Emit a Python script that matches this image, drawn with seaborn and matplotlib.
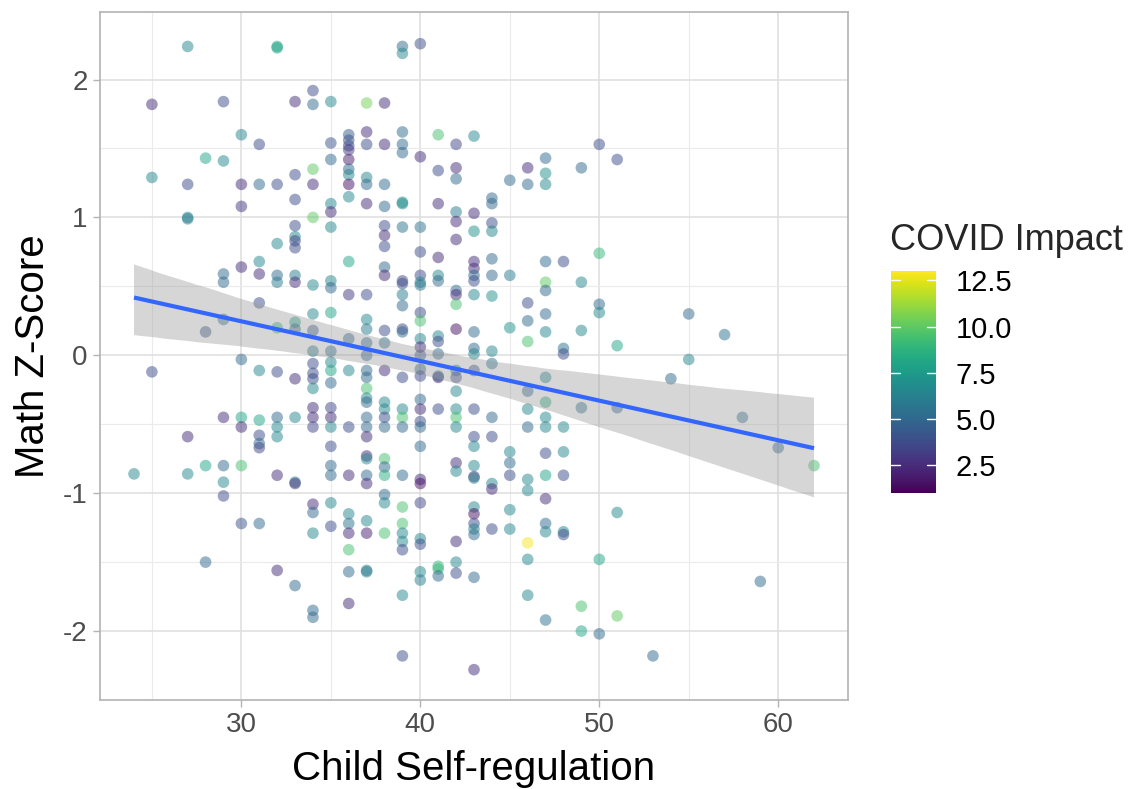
import numpy as np
import pandas as pd
import matplotlib
matplotlib.use("Agg")
import matplotlib.pyplot as plt
import seaborn as sns
from matplotlib.colors import Normalize
from matplotlib.cm import ScalarMappable
from matplotlib.ticker import MultipleLocator, FixedLocator

# ---------------- data ----------------
self_reg_levels = [24, 25, 27, 28, 29, 30, 31, 32, 33, 34, 35, 36, 37, 38, 39,
                   40, 41, 42, 43, 44, 45, 46, 47, 48, 49, 50, 51, 53, 54, 55,
                   57, 58, 59, 60, 62]

math_z = [
    [-0.86],                                                              # 24
    [1.82, 1.29, -0.12],                                                  # 25
    [2.24, 1.24, 1.00, 0.99, -0.59, -0.86],                               # 27
    [1.43, 0.17, -0.80, -1.50],                                           # 28
    [1.84, 1.41, 0.59, 0.53, 0.26, -0.45, -0.80, -0.92, -1.02],           # 29
    [1.60, 1.24, 1.08, 0.64, -0.03, -0.45, -0.52, -0.80, -1.22],          # 30
    [1.53, 1.24, 0.68, 0.59, 0.38, -0.11, -0.47, -0.58, -0.64, -0.67, -1.22],  # 31
    [2.24, 2.23, 1.24, 0.81, 0.58, 0.53, 0.20, -0.12, -0.45, -0.52, -0.59,
     -0.87, -1.56],                                                       # 32
    [1.84, 1.31, 1.13, 0.94, 0.86, 0.83, 0.78, 0.58, 0.53, 0.24, 0.19,
     -0.17, -0.45, -0.92, -0.93, -1.67],                                  # 33
    [1.92, 1.82, 1.35, 1.24, 1.00, 0.51, 0.30, 0.18, 0.03, -0.06, -0.13,
     -0.17, -0.24, -0.38, -0.45, -0.52, -1.08, -1.14, -1.29, -1.85, -1.90],  # 34
    [1.84, 1.54, 1.42, 1.10, 1.04, 0.93, 0.54, 0.49, 0.31, 0.03, -0.05,
     -0.11, -0.20, -0.38, -0.45, -0.52, -0.66, -0.80, -0.87, -1.07, -1.24],  # 35
    [1.60, 1.56, 1.52, 1.49, 1.42, 1.35, 1.31, 1.24, 1.15, 0.68, 0.44,
     0.12, -0.11, -0.52, -0.87, -1.15, -1.22, -1.29, -1.41, -1.57, -1.80],  # 36
    [1.83, 1.62, 1.53, 1.29, 1.24, 1.10, 0.44, 0.26, 0.19, 0.09, 0.00,
     -0.11, -0.16, -0.24, -0.31, -0.34, -0.45, -0.52, -0.59, -0.73, -0.75,
     -0.87, -0.93, -1.20, -1.29, -1.57, -1.56],                           # 37
    [1.83, 1.53, 1.24, 1.08, 0.94, 0.87, 0.79, 0.64, 0.58, 0.18, 0.09,
     -0.11, -0.34, -0.39, -0.45, -0.52, -0.75, -0.81, -0.87, -1.01, -1.07,
     -1.29],                                                              # 38
    [2.24, 2.19, 1.62, 1.53, 1.47, 1.10, 1.11, 0.93, 0.54, 0.52, 0.44,
     0.36, 0.19, 0.17, -0.16, -0.39, -0.45, -0.52, -0.87, -1.10, -1.22,
     -1.29, -1.35, -1.41, -1.74, -2.18],                                  # 39
    [2.26, 1.44, 0.93, 0.75, 0.58, 0.53, 0.51, 0.31, 0.25, 0.12, 0.06,
     0.00, -0.10, -0.15, -0.32, -0.39, -0.48, -0.52, -0.66, -0.90, -0.93,
     -1.07, -1.33, -1.37, -1.57, -1.63],                                  # 40
    [1.60, 1.34, 1.10, 0.71, 0.58, 0.54, 0.14, 0.10, 0.01, -0.15, -0.16,
     -0.39, -1.53, -1.55, -1.60],                                         # 41
    [1.53, 1.36, 1.28, 1.04, 0.97, 0.84, 0.47, 0.44, 0.37, 0.19, -0.11,
     -0.16, -0.26, -0.39, -0.45, -0.52, -0.78, -0.84, -1.35, -1.50, -1.58],  # 42
    [1.59, 1.03, 0.90, 0.68, 0.63, 0.58, 0.54, 0.44, 0.17, 0.05, 0.01,
     -0.11, -0.39, -0.59, -0.66, -0.80, -0.88, -0.89, -1.10, -1.15, -1.22,
     -1.26, -1.30, -1.61, -2.28],                                         # 43
    [1.14, 1.10, 0.96, 0.90, 0.70, 0.58, 0.43, 0.03, -0.06, -0.45, -0.59,
     -0.93, -0.97, -1.26],                                                # 44
    [1.27, 0.58, 0.20, -0.70, -0.78, -0.87, -1.12, -1.26],                # 45
    [1.36, 1.24, 0.38, 0.25, 0.10, -0.26, -0.39, -0.52, -0.90, -0.98,
     -1.36, -1.48, -1.74],                                                # 46
    [1.43, 1.32, 1.24, 0.68, 0.53, 0.47, 0.30, 0.17, -0.16, -0.34, -0.45,
     -0.52, -0.71, -0.87, -1.04, -1.22, -1.28, -1.92],                    # 47
    [0.68, 0.05, 0.01, -0.52, -0.70, -0.87, -1.28, -1.30],                # 48
    [1.36, 0.53, 0.18, -0.38, -1.82, -2.00],                              # 49
    [1.53, 0.74, 0.37, 0.31, -1.48, -2.02],                               # 50
    [1.42, 0.07, -0.38, -1.14, -1.89],                                    # 51
    [-2.18],                                                              # 53
    [-0.17],                                                              # 54
    [0.30, -0.03],                                                        # 55
    [0.15],                                                               # 57
    [-0.45],                                                              # 58
    [-1.64],                                                              # 59
    [-0.67],                                                              # 60
    [-0.80],                                                              # 62
]

covid_impact = [
    [6.5],                                                                # 24
    [2.5, 6.5, 3.8],                                                      # 25
    [6.5, 3.8, 6.5, 6.0, 2.5, 6.5],                                       # 27
    [8.0, 4.0, 8.0, 5.0],                                                 # 28
    [3.8, 6.5, 5.0, 5.0, 5.5, 2.5, 5.0, 6.5, 3.8],                        # 29
    [6.5, 2.5, 3.0, 2.5, 5.0, 8.0, 2.5, 9.5, 4.0],                        # 30
    [3.8, 5.0, 6.5, 2.5, 3.8, 6.5, 8.0, 3.8, 5.0, 3.5, 5.0],              # 31
    [8.0, 8.0, 3.8, 6.5, 5.0, 6.0, 9.0, 3.8, 5.0, 6.5, 6.5, 2.5, 2.5],    # 32
    [2.5, 3.8, 3.8, 3.8, 6.5, 3.5, 3.8, 6.0, 2.5, 8.0, 5.0, 2.5, 6.5,
     6.5, 2.5, 5.0],                                                      # 33
    [3.8, 5.0, 10.0, 2.5, 10.0, 6.5, 6.5, 4.5, 6.0, 3.8, 3.8, 3.8, 6.5,
     2.5, 2.5, 3.5, 2.5, 5.0, 6.5, 5.0, 5.0],                             # 34
    [6.5, 4.0, 5.0, 6.5, 2.5, 6.5, 6.5, 5.0, 8.0, 5.5, 6.5, 8.0, 5.0,
     3.5, 2.5, 6.5, 3.8, 5.0, 5.0, 6.5, 3.8],                             # 35
    [4.5, 4.0, 3.8, 3.0, 2.0, 5.0, 6.5, 1.5, 6.5, 8.0, 3.0, 5.0, 6.5,
     3.8, 2.5, 6.5, 5.5, 2.5, 9.5, 5.0, 2.5],                             # 36
    [10.5, 2.5, 3.8, 6.5, 5.0, 2.5, 3.8, 6.5, 6.0, 5.0, 5.0, 5.0, 5.0,
     9.5, 6.5, 5.0, 5.0, 5.0, 2.5, 2.5, 6.5, 5.0, 2.5, 6.5, 2.0, 6.0, 6.0],  # 37
    [2.5, 2.5, 5.0, 5.0, 3.8, 2.5, 3.8, 5.0, 2.5, 3.8, 5.5, 2.5, 6.5,
     6.5, 3.8, 5.0, 9.5, 5.0, 8.5, 5.0, 6.5, 9.5],                        # 38
    [5.0, 6.5, 5.0, 5.0, 5.0, 6.5, 7.0, 5.5, 3.5, 3.8, 6.0, 5.0, 3.5,
     5.0, 3.8, 6.5, 9.5, 5.0, 5.0, 9.5, 9.5, 6.5, 6.5, 3.8, 6.5, 3.8],    # 39
    [3.8, 2.5, 5.5, 3.8, 3.8, 6.5, 5.5, 3.8, 9.5, 6.5, 2.5, 4.0, 5.0,
     3.8, 5.0, 2.5, 3.8, 5.0, 5.0, 2.5, 1.5, 3.5, 6.5, 3.8, 6.5, 6.0],    # 40
    [9.5, 3.8, 2.5, 2.5, 6.5, 5.0, 6.5, 3.8, 5.0, 6.5, 2.5, 3.8, 9.0,
     9.0, 5.0],                                                           # 41
    [3.5, 2.5, 5.0, 6.0, 2.5, 2.5, 5.0, 2.5, 9.5, 1.5, 5.5, 3.8, 6.5,
     6.5, 9.5, 6.5, 2.5, 6.5, 2.5, 6.5, 3.8],                             # 42
    [6.5, 2.5, 7.0, 2.5, 2.5, 5.0, 3.8, 6.5, 5.0, 5.0, 6.5, 3.8, 3.8,
     3.8, 6.5, 6.5, 2.5, 6.5, 6.5, 1.5, 3.8, 6.5, 5.0, 5.0, 2.5],         # 43
    [5.0, 5.0, 3.8, 6.5, 5.0, 5.0, 7.0, 6.5, 5.5, 5.0, 3.8, 6.5, 2.5,
     3.8],                                                                # 44
    [5.0, 6.0, 7.0, 6.5, 5.0, 3.8, 6.5, 6.5],                             # 45
    [2.5, 5.0, 3.8, 5.0, 9.5, 5.0, 6.5, 5.0, 6.5, 6.5, 12.8, 6.5, 6.5],   # 46
    [5.0, 7.0, 6.5, 5.0, 10.0, 5.0, 5.0, 6.5, 6.5, 8.5, 6.5, 6.5, 3.8,
     8.0, 2.5, 5.0, 6.5, 5.5],                                            # 47
    [3.8, 5.5, 3.8, 6.5, 6.5, 3.8, 6.5, 3.8],                             # 48
    [5.0, 6.5, 6.5, 5.5, 9.5, 8.0],                                       # 49
    [3.8, 9.0, 5.0, 6.5, 8.0, 5.0],                                       # 50
    [3.8, 8.0, 5.0, 6.5, 10.0],                                           # 51
    [5.0],                                                                # 53
    [5.0],                                                                # 54
    [5.0, 6.5],                                                           # 55
    [5.5],                                                                # 57
    [5.5],                                                                # 58
    [5.0],                                                                # 59
    [5.0],                                                                # 60
    [9.5],                                                                # 62
]

colorbar_ticks = [2.5, 5.0, 7.5, 10.0, 12.5]
x_ticks = [30, 40, 50, 60]
y_ticks = [-2, -1, 0, 1, 2]

# ---------------- build tidy frame ----------------
rows = []
for lvl, zs, cs in zip(self_reg_levels, math_z, covid_impact):
    for z, c in zip(zs, cs):
        rows.append((lvl, z, c))
df = pd.DataFrame(rows, columns=["Child Self-regulation", "Math Z-Score", "COVID Impact"])

# ---------------- styling ----------------
sns.set_theme(style="white")
plt.rcParams["font.family"] = ["Liberation Sans", "DejaVu Sans"]
plt.rcParams["axes.unicode_minus"] = False

W, H = 1135, 789
fig = plt.figure(figsize=(W / 100, H / 100), dpi=100)
ax = fig.add_axes([100 / W, 1 - 700 / H, 748 / W, 688 / H])

norm = Normalize(vmin=1.0, vmax=13.0)
sns.scatterplot(data=df, x="Child Self-regulation", y="Math Z-Score",
                hue="COVID Impact", palette="viridis", hue_norm=norm,
                s=70, alpha=0.5, linewidth=0, legend=False, ax=ax, zorder=2)

sns.regplot(data=df, x="Child Self-regulation", y="Math Z-Score",
            scatter=False, ci=95, n_boot=2000, seed=7, color="#3366FF",
            line_kws=dict(lw=3.0, zorder=4, solid_capstyle="butt"), ax=ax)
band = ax.collections[-1]
band.set_facecolor("#999999")
band.set_edgecolor("none")
band.set_alpha(0.4)
band.set_zorder(3)

ax.set_xlim(22.1, 63.9)
ax.set_ylim(-2.5, 2.49)
ax.xaxis.set_major_locator(FixedLocator(x_ticks))
ax.yaxis.set_major_locator(FixedLocator(y_ticks))
ax.xaxis.set_minor_locator(MultipleLocator(5))
ax.yaxis.set_minor_locator(MultipleLocator(0.5))
ax.grid(which="major", color="#DEDEDE", lw=1.1, zorder=0)
ax.grid(which="minor", color="#EBEBEB", lw=0.8, zorder=0)
ax.set_axisbelow(True)
for sp in ax.spines.values():
    sp.set_color("#B3B3B3")
    sp.set_linewidth(1.2)
    sp.set_visible(True)
ax.tick_params(which="major", length=5, width=1.0, color="#B3B3B3",
               labelcolor="#4D4D4D", labelsize=20, pad=4,
               bottom=True, left=True)
ax.tick_params(which="minor", length=0)

ax.set_xlabel("Child Self-regulation", fontsize=29, color="black", labelpad=8)
ax.set_ylabel("Math Z-Score", fontsize=29, color="black", labelpad=8)

# ---------------- colourbar legend ----------------
cax = fig.add_axes([891 / W, 1 - 493 / H, 45 / W, 222 / H])
sm = ScalarMappable(norm=norm, cmap="viridis")
cb = fig.colorbar(sm, cax=cax, ticks=colorbar_ticks)
cb.outline.set_visible(False)
cb.ax.set_yticklabels([f"{t:.1f}" for t in colorbar_ticks])
cax.tick_params(length=0, labelsize=21, pad=14, labelcolor="black")
for t in colorbar_ticks:
    cax.plot([0, 0.2], [t, t], color="white", lw=1.0, transform=cax.get_yaxis_transform())
    cax.plot([0.8, 1.0], [t, t], color="white", lw=1.0, transform=cax.get_yaxis_transform())
fig.text(890 / W, 1 - 240 / H, "COVID Impact", fontsize=26, ha="left", va="center")

fig.savefig("out.png", dpi=100)
